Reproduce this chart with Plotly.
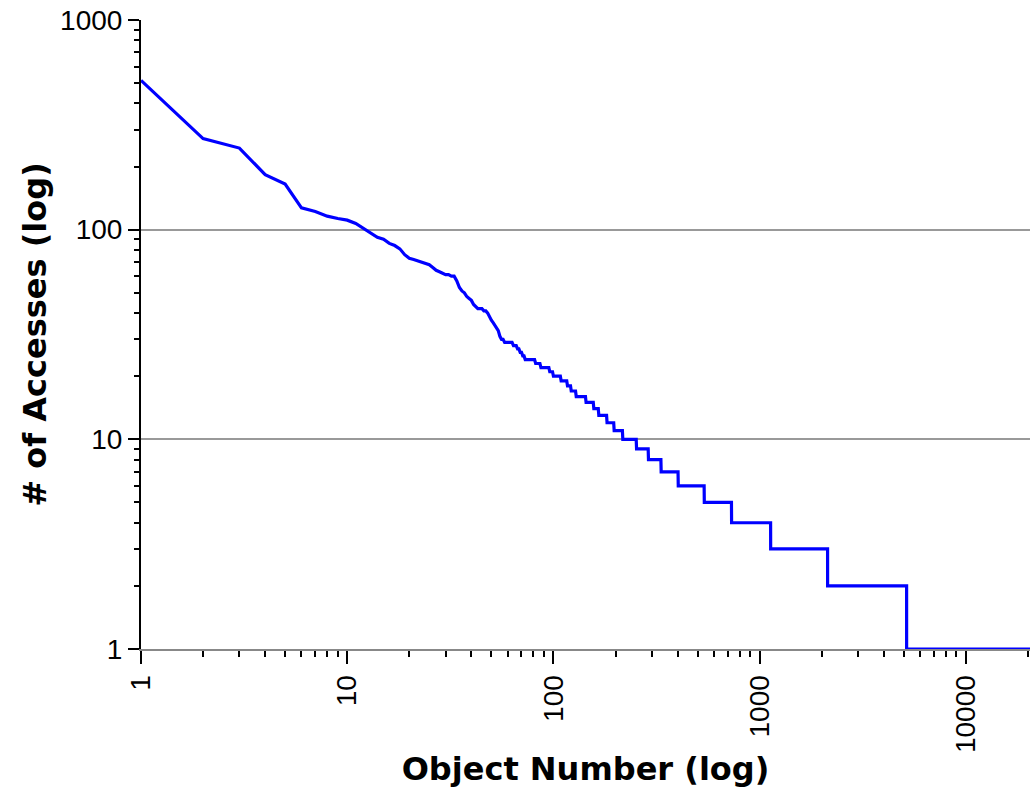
import plotly.graph_objects as go

# Top-ranked objects: rank -> number of accesses
top_ranks = list(range(1, 58))
top_accesses = [515, 272, 245, 183, 165, 127, 122, 116, 113, 111,
                107, 101, 96, 92, 90, 86, 84, 81, 76, 73,
                72, 71, 70, 69, 68, 66, 64, 63, 62, 61,
                61, 60, 60, 57, 53, 51, 50, 48, 47, 46,
                44, 43, 42, 42, 42, 41, 41, 40, 38, 37,
                36, 35, 34, 33, 31, 30, 30]

# Runs of equal access counts: value, first rank, last rank
run_values = [29, 28, 27, 26, 25, 24, 23, 22, 21, 20, 19, 18, 17, 16, 15,
              14, 13, 12, 11, 10, 9, 8, 7, 6, 5, 4, 3, 2, 1]
run_first = [58, 64, 67, 69, 71, 73, 82, 87, 96, 100, 109, 117, 122, 129, 144,
             157, 166, 182, 197, 217, 253, 289, 333, 403, 539, 731, 1131, 2136, 5161]
run_last = [63, 66, 68, 70, 72, 81, 86, 95, 99, 108, 116, 121, 128, 143, 156,
            165, 181, 196, 216, 252, 288, 332, 402, 538, 730, 1130, 2135, 5160, 20500]

x_tick_vals = [1, 10, 100, 1000, 10000]
x_tick_text = ["1", "10", "100", "1000", "10000"]
y_tick_vals = [1, 10, 100, 1000]
y_tick_text = ["1", "10", "100", "1000"]

xs = list(top_ranks)
ys = list(top_accesses)
for v, a, b in zip(run_values, run_first, run_last):
    xs += [a, b]
    ys += [v, v]

x_minor = [m * 10 ** d for d in range(0, 5) for m in range(2, 10) if m * 10 ** d <= 20000]
y_minor = [m * 10 ** d for d in range(0, 3) for m in range(2, 10)]

fig = go.Figure()
fig.add_trace(go.Scatter(x=xs, y=ys, mode="lines",
                         line=dict(color="#0000FF", width=3.2),
                         showlegend=False))

font_family = "Liberation Sans, Arial, Helvetica, sans-serif"
title_family = "DejaVu Sans, Liberation Sans, Arial, sans-serif"

fig.update_layout(
    width=1030, height=798,
    margin=dict(l=141, r=0, t=20, b=149),
    plot_bgcolor="white", paper_bgcolor="white",
    font=dict(family=font_family, size=28, color="black"),
    xaxis=dict(
        type="log", range=[0, 4.311], automargin=False,
        tickvals=x_tick_vals, ticktext=x_tick_text,
        tickangle=-90,
        ticks="outside", ticklen=13, tickwidth=1.5, tickcolor="black",
        showline=True, linecolor="#888888", linewidth=2,
        showgrid=False, zeroline=False,
        minor=dict(tickvals=x_minor, ticks="outside", ticklen=6, tickwidth=1.5,
                   tickcolor="black", showgrid=False),
        tickfont=dict(size=28, family=font_family),
        title=dict(text="<b>Object Number (log)</b>", font=dict(size=32, family=title_family),
                   standoff=6),
    ),
    yaxis=dict(
        type="log", range=[0, 3], automargin=False,
        tickvals=y_tick_vals, ticktext=y_tick_text,
        ticks="outside", ticklen=11, tickwidth=1.5, tickcolor="black",
        showline=True, linecolor="black", linewidth=2,
        showgrid=True, gridcolor="#999999", gridwidth=1.5,
        zeroline=False,
        minor=dict(tickvals=y_minor, ticks="outside", ticklen=5, tickwidth=1.5,
                   tickcolor="black", showgrid=False),
        tickfont=dict(size=28, family=font_family),
        title=dict(text="<b># of Accesses (log)</b>", font=dict(size=32, family=title_family),
                   standoff=4),
    ),
)

fig.write_html("out.html", config={"displayModeBar": False},
               post_script="document.body.style.margin='0';document.body.style.overflow='hidden';")
